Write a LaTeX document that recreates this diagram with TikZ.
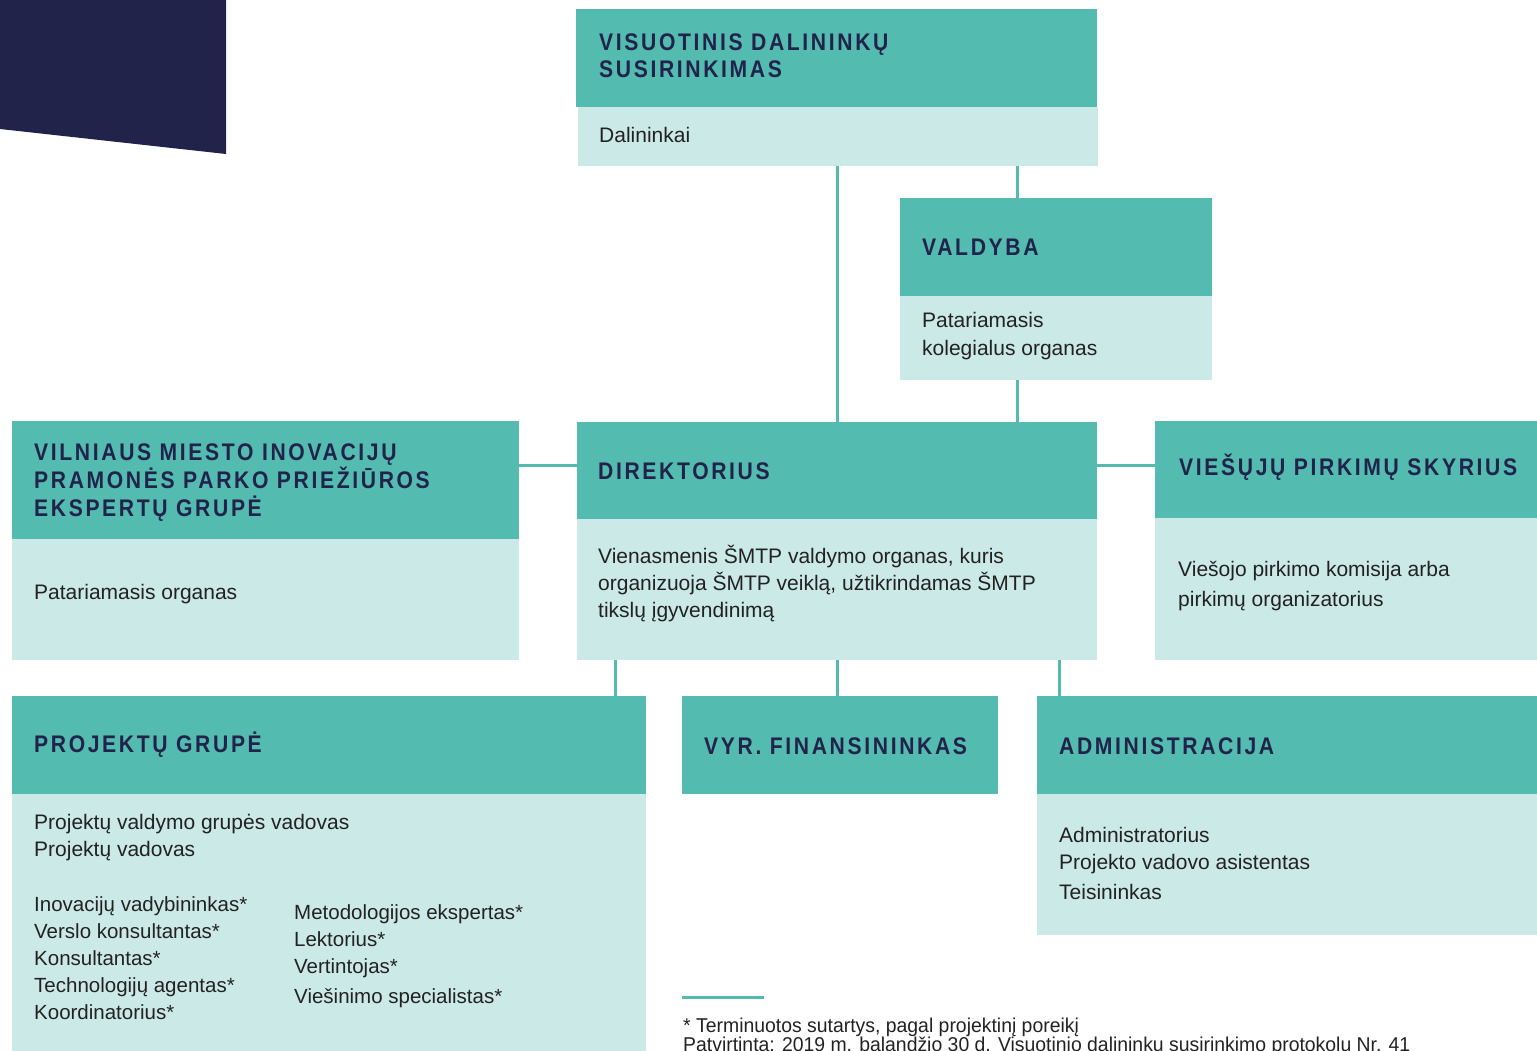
\documentclass[tikz,border=0pt]{standalone}
\usepackage{fontspec}
\setmainfont{Liberation Sans}
\newfontfamily\ttlf[LetterSpace=11,FakeStretch=0.88]{Liberation Sans}
\newfontfamily\condf[FakeStretch=0.97]{Liberation Sans}
\definecolor{navy}{HTML}{22234A}
\definecolor{tealc}{HTML}{53BBB0}
\definecolor{lightc}{HTML}{CBE9E6}
\definecolor{ink}{HTML}{222222}
\tikzset{
  hdr/.style={fill=tealc, draw=none, inner sep=0pt, outer sep=0pt, anchor=north west, rectangle},
  bdy/.style={fill=lightc, draw=none, inner sep=0pt, outer sep=0pt, anchor=north west, rectangle},
  conn/.style={draw=tealc, line width=3pt},
  ttl/.style={anchor=base west, inner sep=0pt, text=navy, font=\ttlf\bfseries\fontsize{24}{27}\selectfont},
  txt/.style={anchor=base west, inner sep=0pt, text=ink, font=\fontsize{21}{27}\selectfont},
  ctxt/.style={anchor=base west, inner sep=0pt, text=ink, font=\fontsize{20.5}{27}\selectfont},
  ftxt/.style={anchor=base west, inner sep=0pt, text=ink, font=\condf\fontsize{20}{20}\selectfont}
}
\begin{document}
\begin{tikzpicture}[x=1pt,y=-1pt]
\useasboundingbox (0,0) rectangle (1537,1050);
\clip (0,0) rectangle (1537,1050);

% dark corner shape
\fill[navy] (0,0) -- (226,0) -- (226,154) -- (0,129) -- cycle;

% boxes
\node[hdr, minimum width=521pt, minimum height=98pt] (vdsH) at (576,9) {};
\node[bdy, minimum width=520pt, minimum height=59pt] (vdsB) at (578,107) {};

\node[hdr, minimum width=312pt, minimum height=98pt] (valH) at (900,198) {};
\node[bdy, minimum width=312pt, minimum height=84pt] (valB) at (900,296) {};

\node[hdr, minimum width=507pt, minimum height=118pt] (expH) at (12,421) {};
\node[bdy, minimum width=507pt, minimum height=121pt] (expB) at (12,539) {};

\node[hdr, minimum width=520pt, minimum height=97pt] (dirH) at (577,422) {};
\node[bdy, minimum width=520pt, minimum height=141pt] (dirB) at (577,519) {};

\node[hdr, minimum width=382pt, minimum height=97pt] (vpsH) at (1155,421) {};
\node[bdy, minimum width=382pt, minimum height=142pt] (vpsB) at (1155,518) {};

\node[hdr, minimum width=634pt, minimum height=98pt] (prjH) at (12,696) {};
\node[bdy, minimum width=634pt, minimum height=260pt] (prjB) at (12,794) {};

\node[hdr, minimum width=316pt, minimum height=98pt] (finH) at (682,696) {};

\node[hdr, minimum width=500pt, minimum height=98pt] (admH) at (1037,696) {};
\node[bdy, minimum width=500pt, minimum height=141pt] (admB) at (1037,794) {};

% connector guide coordinates
\coordinate (cv) at (1017,0);
\coordinate (ch) at (0,465);
\coordinate (d1) at (615,0);
\coordinate (d2) at (837,0);
\coordinate (d3) at (1059,0);

% connectors
\draw[conn] (vdsB.south -| d2) -- (dirH.north -| d2);
\draw[conn] (vdsB.south -| cv) -- (valH.north -| cv);
\draw[conn] (valB.south -| cv) -- (dirH.north -| cv);
\draw[conn] (expH.east |- ch) -- (dirH.west |- ch);
\draw[conn] (dirH.east |- ch) -- (vpsH.west |- ch);
\draw[conn] (dirB.south -| d1) -- (prjH.north -| d1);
\draw[conn] (dirB.south -| d2) -- (finH.north -| d2);
\draw[conn] (dirB.south -| d3) -- (admH.north -| d3);

% titles
\node[ttl] (t1a) at (599,50) {VISUOTINIS DALININKŲ};
\node[ttl] (t1b) at (599,77) {SUSIRINKIMAS};
\node[ttl] (t2) at (922,255) {VALDYBA};
\node[ttl] (t3a) at (34,460) {VILNIAUS MIESTO INOVACIJŲ};
\node[ttl] (t3b) at (34,488) {PRAMONĖS PARKO PRIEŽIŪROS};
\node[ttl] (t3c) at (34,516) {EKSPERTŲ GRUPĖ};
\node[ttl] (t4) at (598,479) {DIREKTORIUS};
\node[ttl] (t5) at (1179,475) {VIEŠŲJŲ PIRKIMŲ SKYRIUS};
\node[ttl] (t6) at (34,752) {PROJEKTŲ GRUPĖ};
\node[ttl] (t7) at (704,754) {VYR. FINANSININKAS};
\node[ttl] (t8) at (1059,754) {ADMINISTRACIJA};

% body texts
\node[txt] (b1) at (599,142) {Dalininkai};
\node[txt] (b2a) at (922,327) {Patariamasis};
\node[txt] (b2b) at (922,355) {kolegialus organas};
\node[txt] (b3) at (34,599) {Patariamasis organas};
\node[txt] (b4a) at (598,563) {Vienasmenis ŠMTP valdymo organas, kuris};
\node[txt] (b4b) at (598,590) {organizuoja ŠMTP veiklą, užtikrindamas ŠMTP};
\node[txt] (b4c) at (598,617) {tikslų įgyvendinimą};
\node[txt] (b5a) at (1178,576) {Viešojo pirkimo komisija arba};
\node[txt] (b5b) at (1178,606) {pirkimų organizatorius};
\node[txt] (b6a) at (34,829) {Projektų valdymo grupės vadovas};
\node[txt] (b6b) at (34,856) {Projektų vadovas};
\node[ctxt] (c1) at (34,911) {Inovacijų vadybininkas*};
\node[ctxt] (c2) at (34,938) {Verslo konsultantas*};
\node[ctxt] (c3) at (34,965) {Konsultantas*};
\node[ctxt] (c4) at (34,992) {Technologijų agentas*};
\node[ctxt] (c5) at (34,1019) {Koordinatorius*};
\node[ctxt] (c6) at (294,919) {Metodologijos ekspertas*};
\node[ctxt] (c7) at (294,946) {Lektorius*};
\node[ctxt] (c8) at (294,973) {Vertintojas*};
\node[ctxt] (c9) at (294,1003) {Viešinimo specialistas*};
\node[txt] (b8a) at (1059,842) {Administratorius};
\node[txt] (b8b) at (1059,869) {Projekto vadovo asistentas};
\node[txt] (b8c) at (1059,899) {Teisininkas};

% footnote
\draw[tealc, line width=3pt] (682,997) -- (764,997);
\node[ftxt] (f1) at (683,1032) {* Terminuotos sutartys, pagal projektinį poreikį};
\node[ftxt] (f2) at (683,1051) {Patvirtinta: 2019 m. balandžio 30 d. Visuotinio dalininkų susirinkimo protokolu Nr. 41};
\end{tikzpicture}
\end{document}
